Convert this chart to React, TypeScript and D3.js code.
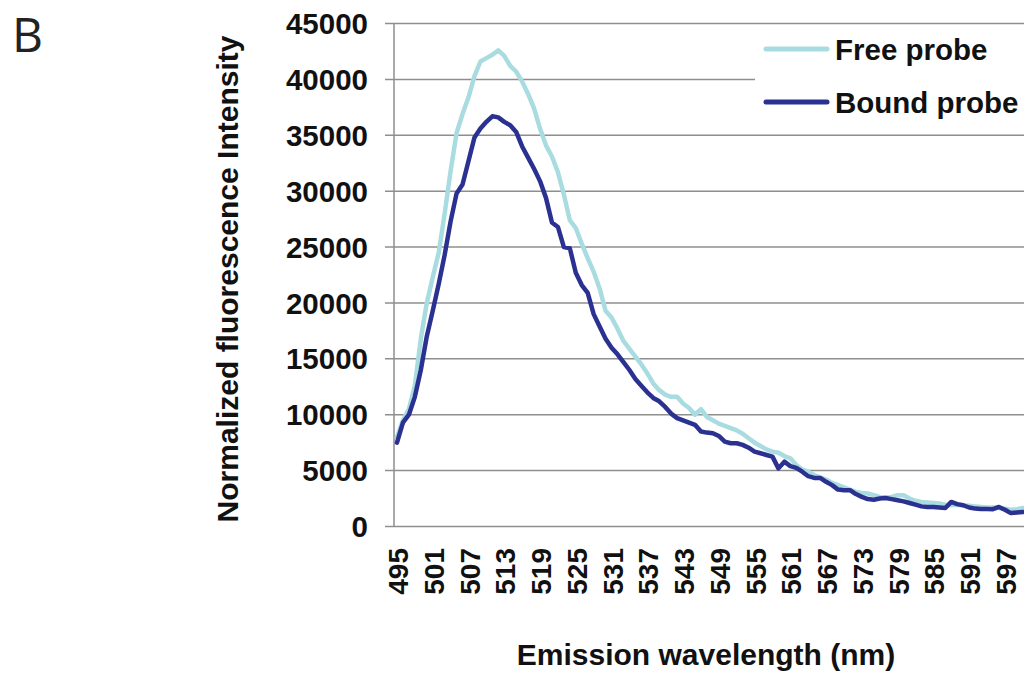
import React from "react";
import * as d3 from "d3";

const wavelengths: number[] = d3.range(495, 601);

const freeProbe: number[] = [
  8000, 9500, 10500, 12600, 16800, 20000, 22300, 24500, 28000, 31800,
  35200, 36900, 38400, 40300, 41600, 41900, 42200, 42600, 42100, 41200,
  40700, 39800, 38700, 37400, 35600, 34100, 33100, 31700, 29700, 27400,
  26700, 25300, 24000, 22800, 21300, 19300, 18700, 17700, 16600, 15900,
  15200, 14500, 13700, 12800, 12200, 11800, 11600, 11600, 11000, 10600,
  10000, 10500, 9800, 9500, 9200, 9000, 8800, 8600, 8300, 7900,
  7500, 7200, 6900, 6700, 6600, 6300, 6100, 5500, 5100, 4900,
  4600, 4400, 4200, 3900, 3700, 3500, 3300, 3100, 3000, 2950,
  2800, 2650, 2600, 2650, 2800, 2800, 2500, 2300, 2200, 2150,
  2100, 2050, 1950, 1900, 1950, 1900, 1850, 1800, 1750, 1700,
  1700, 1650, 1600, 1500, 1550, 1650,
];

const boundProbe: number[] = [
  7500, 9300, 10000, 11600, 14000, 17000, 19300, 21700, 24300, 27300,
  29800, 30600, 32700, 34800, 35600, 36200, 36700, 36600, 36200, 35900,
  35300, 34000, 33000, 32000, 30900, 29400, 27200, 26800, 25000, 24900,
  22700, 21600, 20900, 19000, 17900, 16800, 16000, 15400, 14700, 14000,
  13200, 12600, 12000, 11500, 11200, 10700, 10100, 9700, 9500, 9300,
  9100, 8500, 8400, 8350, 8100, 7600, 7450, 7450, 7300, 7050,
  6700, 6550, 6400, 6250, 5200, 5800, 5400, 5250, 4900, 4500,
  4350, 4350, 4000, 3700, 3300, 3250, 3250, 2900, 2650, 2450,
  2400, 2500, 2550, 2450, 2350, 2250, 2100, 1950, 1800, 1750,
  1750, 1700, 1650, 2200, 2000, 1900, 1700, 1600, 1560, 1560,
  1550, 1750, 1500, 1200, 1250, 1300,
];

const xTickLabels: number[] = [495, 501, 507, 513, 519, 525, 531, 537, 543, 549, 555, 561, 567, 573, 579, 585, 591, 597];
const yTicks: number[] = [0, 5000, 10000, 15000, 20000, 25000, 30000, 35000, 40000, 45000];

const seriesNames = ["Free probe", "Bound probe"];
const seriesColors = ["#A9DCE0", "#2B3190"];

const FONT = "'Liberation Sans', Arial, Helvetica, sans-serif";

export default function App() {
  const left = 394;
  const right = 394 + 106 * 5.96;
  const top = 23.5;
  const bottom = 526.5;

  const x = d3.scalePoint<number>().domain(wavelengths).range([left, right]).padding(0.5);
  const y = d3.scaleLinear().domain([0, 45000]).range([bottom, top]);

  const line = d3
    .line<number>()
    .x((_, i) => x(wavelengths[i]) as number)
    .y((d) => y(d));

  const grid = "#8E8E8E";

  return (
    <svg
      width={1024}
      height={673}
      style={{ position: "absolute", left: 0, top: 0, background: "#fff" }}
      fontFamily={FONT}
    >
      <rect x={0} y={0} width={1024} height={673} fill="#fff" />
      <text x={12} y={52} fontSize={48} fontFamily="'Open Sans', 'Noto Sans', sans-serif" fill="#222">
        B
      </text>

      {/* gridlines and y ticks */}
      {yTicks.map((t) => (
        <line key={"g" + t} x1={385} x2={1024} y1={y(t)} y2={y(t)} stroke={grid} strokeWidth={1.5} />
      ))}
      <line x1={left} x2={left} y1={top} y2={bottom} stroke={grid} strokeWidth={1.5} />

      {yTicks.map((t) => (
        <text
          key={"yl" + t}
          x={368}
          y={y(t)}
          dy="0.36em"
          textAnchor="end"
          fontSize={29.5}
          fontWeight="bold"
          fill="#111"
        >
          {t}
        </text>
      ))}

      {xTickLabels.map((t) => (
        <text
          key={"xl" + t}
          transform={`translate(${(x(t) as number) + 1},548) rotate(-90)`}
          dy="0.36em"
          textAnchor="end"
          fontSize={28}
          fontWeight="bold"
          fill="#111"
        >
          {t}
        </text>
      ))}

      <text
        transform="translate(238,279) rotate(-90)"
        textAnchor="middle"
        fontSize={30}
        fontWeight="bold"
        fill="#111"
      >
        Normalized fluorescence Intensity
      </text>

      <text x={706} y={665} textAnchor="middle" fontSize={30} fontWeight="bold" fill="#111">
        Emission wavelength (nm)
      </text>

      {/* series */}
      {[freeProbe, boundProbe].map((s, i) => (
        <path
          key={"s" + i}
          d={line(s) || ""}
          fill="none"
          stroke={seriesColors[i]}
          strokeWidth={4.5}
          strokeLinejoin="round"
          strokeLinecap="round"
        />
      ))}

      {/* legend */}
      <rect x={755} y={30} width={269} height={96} fill="#fff" />
      {seriesNames.map((n, i) => (
        <g key={"lg" + i} transform={`translate(0,${49 + i * 53})`}>
          <line x1={766} x2={827} y1={0} y2={0} stroke={seriesColors[i]} strokeWidth={5} strokeLinecap="round" />
          <text x={835} y={11} fontSize={29.5} fontWeight="bold" fill="#111">
            {n}
          </text>
        </g>
      ))}
    </svg>
  );
}
